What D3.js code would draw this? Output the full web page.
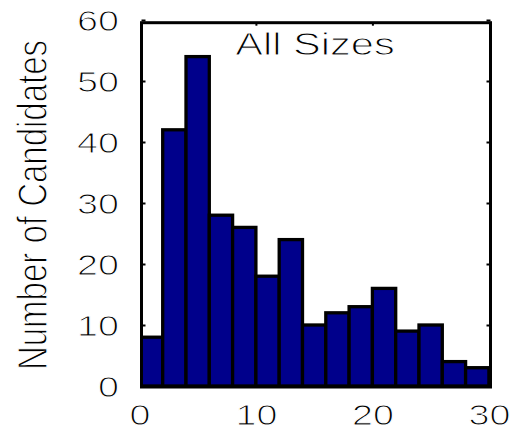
<!DOCTYPE html>
<html>
<head>
<meta charset="utf-8">
<script src="https://cdn.jsdelivr.net/npm/d3@7"></script>
<style>
  html, body { margin: 0; padding: 0; background: #fff; }
  svg { display: block; }
  text {
    font-family: "Liberation Sans", Arial, Helvetica, sans-serif;
    fill: #000;
    /* thin, crisp strokes for the labels */
    stroke: #fff; stroke-width: 1px; paint-order: fill;
  }
</style>
</head>
<body>
<svg id="chart" width="511" height="430"></svg>
<script>
// Histogram of candidate counts per size bin (bins 2 units wide, 0–30)
const binStarts = [0, 2, 4, 6, 8, 10, 12, 14, 16, 18, 20, 22, 24, 26, 28];
const counts    = [8, 42, 54, 28, 26, 18, 24, 10, 12, 13, 16, 9, 10, 4, 3];
const binWidth  = 2;
const xTicks    = [0, 10, 20, 30];
const yTicks    = [0, 10, 20, 30, 40, 50, 60];
const title     = "All Sizes";
const yTitle    = "Number of Candidates";

const svg = d3.select("#chart");
const frame = { left: 141.5, right: 490.5, top: 22.7, bottom: 387 };
const stretch = 1.3;   // glyphs are drawn wide

const x = d3.scaleLinear().domain([0, 30]).range([139.4, 488.9]);
const y = d3.scaleLinear().domain([0, 60]).range([386, 20]);

// bars
svg.append("g")
  .selectAll("rect")
  .data(binStarts)
  .join("rect")
    .attr("x", (d) => x(d))
    .attr("width", (d) => x(d + binWidth) - x(d))
    .attr("y", (d, i) => y(counts[i]))
    .attr("height", (d, i) => y(0) - y(counts[i]))
    .attr("fill", "#00008b")
    .attr("stroke", "#000")
    .attr("stroke-width", 3.3);

// white out anything left of the frame
svg.append("rect")
  .attr("x", 0).attr("y", 0)
  .attr("width", frame.left - 1.5).attr("height", 430)
  .attr("fill", "#fff");

// left axis: inward ticks + labels
const gl = svg.append("g")
  .attr("transform", `translate(${frame.left},0)`)
  .call(d3.axisLeft(y).tickValues(yTicks).tickSize(-4).tickFormat(d3.format("d")));
gl.select(".domain").remove();
gl.selectAll(".tick line").attr("stroke", "#000").attr("stroke-width", 2);
gl.selectAll(".tick text")
  .attr("x", null).attr("dy", null)
  .attr("text-anchor", "end")
  .attr("font-size", 29)
  .attr("transform", `translate(-22.5,10.5) scale(${stretch},1)`);

// right axis: inward ticks only
const gr = svg.append("g")
  .attr("transform", `translate(${frame.right},0)`)
  .call(d3.axisRight(y).tickValues(yTicks).tickSize(-4).tickFormat(""));
gr.select(".domain").remove();
gr.selectAll(".tick line").attr("stroke", "#000").attr("stroke-width", 2);

// top axis: inward ticks only
const gt = svg.append("g")
  .attr("transform", `translate(0,${frame.top})`)
  .call(d3.axisTop(x).tickValues([10, 20]).tickSize(-3).tickFormat(""));
gt.select(".domain").remove();
gt.selectAll(".tick line").attr("stroke", "#000").attr("stroke-width", 2);

// bottom axis: labels
const gb = svg.append("g")
  .attr("transform", `translate(0,${frame.bottom})`)
  .call(d3.axisBottom(x).tickValues(xTicks).tickSize(0).tickFormat(d3.format("d")));
gb.select(".domain").remove();
gb.selectAll(".tick text")
  .attr("y", null).attr("dy", null)
  .attr("text-anchor", "middle")
  .attr("font-size", 29)
  .attr("transform", `translate(0,38) scale(${stretch},1)`);

// frame
svg.append("rect")
  .attr("x", frame.left).attr("y", frame.top)
  .attr("width", frame.right - frame.left)
  .attr("height", frame.bottom - frame.top)
  .attr("fill", "none")
  .attr("stroke", "#000")
  .attr("stroke-width", 3);

// title inside the plot
svg.append("text")
  .attr("text-anchor", "middle")
  .attr("font-size", 32)
  .attr("transform", `translate(315,55) scale(${stretch},1)`)
  .text(title);

// y axis title
svg.append("text")
  .attr("text-anchor", "middle")
  .attr("font-size", 33)
  .attr("transform", `translate(46.5,205) scale(${stretch},1) rotate(-90)`)
  .text(yTitle);
</script>
</body>
</html>
